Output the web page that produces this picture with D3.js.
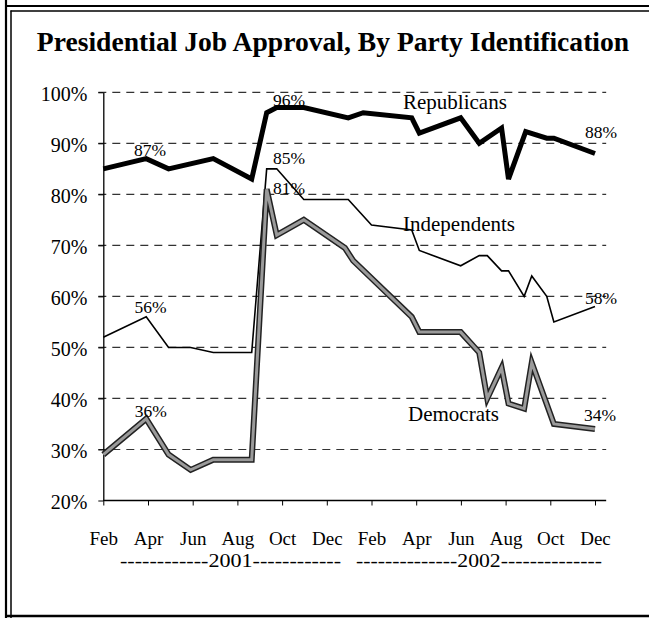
<!DOCTYPE html>
<html>
<head>
<meta charset="utf-8">
<script src="https://cdn.jsdelivr.net/npm/d3@7"></script>
<style>
  html, body { margin: 0; padding: 0; background: #fff; }
  svg { display: block; }
</style>
</head>
<body>
<svg id="chart" width="649" height="618"></svg>
<script>
// ---- data (x = months since Feb 2001) ----
const titleText = "Presidential Job Approval, By Party Identification";
const monthTicks = [0, 2, 4, 6, 8, 10, 12, 14, 16, 18, 20, 22];
const monthLabels = ["Feb", "Apr", "Jun", "Aug", "Oct", "Dec", "Feb", "Apr", "Jun", "Aug", "Oct", "Dec"];
const yTicks = [20, 30, 40, 50, 60, 70, 80, 90, 100];
const yearLabels = ["------------2001------------", "--------------2002--------------"];

const repMonths = [0, 1.92, 2.92, 4.92, 6.64, 7.31, 7.76, 8.97, 10.96, 11.63, 13.8, 14.14, 15.99, 16.82, 17.82, 18.13, 18.9, 19.84, 20.16, 22];
const repValues = [85, 87, 85, 87, 83, 96, 97, 97, 95, 96, 95, 92, 95, 90, 93, 83, 92.3, 91, 91, 88];

const indMonths = [0, 1.92, 2.92, 3.91, 4.92, 6.64, 7.31, 7.76, 8.97, 10.96, 12.0, 13.8, 14.14, 15.99, 16.82, 17.18, 17.82, 18.13, 18.83, 19.17, 19.84, 20.16, 22];
const indValues = [52, 56, 50, 50, 49, 49, 85, 85, 79, 79, 74, 73, 69, 66, 68, 68, 65, 65, 60, 64, 60, 55, 58];

const demMonths = [0, 1.92, 2.92, 3.91, 4.92, 6.64, 7.31, 7.76, 8.97, 10.81, 11.18, 13.8, 14.14, 15.99, 16.82, 17.18, 17.82, 18.13, 18.83, 19.17, 20.16, 22];
const demValues = [29, 36, 29, 26, 28, 28, 81, 72, 75, 69.5, 67, 56, 53, 53, 49, 40, 46, 39, 38, 47, 35, 34];

const seriesNames = ["Republicans", "Independents", "Democrats"];
const labelTexts = ["87%", "96%", "85%", "81%", "56%", "36%", "88%", "58%", "34%"];
const labelMonths = [2.09, 8.31, 8.31, 8.31, 2.11, 2.13, 22.27, 22.27, 22.22];
const labelValues = [87, 96, 85, 81, 56, 36, 88, 58, 34];

// ---- layout ----
const SERIF = "'Liberation Serif', 'Times New Roman', Times, serif";
const labelDy = [-3, -6.7, -4.4, 5.2, -4, -2.2, -15.3, -2.2, -8.4];
const svg = d3.select("#chart");
const x = d3.scaleLinear().domain([0, 22]).range([103.3, 595]);
const y = d3.scaleLinear().domain([20, 100]).range([500.5, 92.3]);
const xEnd = x(22.5);

// frame
svg.append("line").attr("x1", 6).attr("y1", 0).attr("x2", 6).attr("y2", 618).attr("stroke", "#000").attr("stroke-width", 2.2);
svg.append("line").attr("x1", 11).attr("y1", 10.5).attr("x2", 11).attr("y2", 618).attr("stroke", "#000").attr("stroke-width", 1.5);
svg.append("line").attr("x1", 5).attr("y1", 6).attr("x2", 649).attr("y2", 6).attr("stroke", "#000").attr("stroke-width", 2.2);
svg.append("line").attr("x1", 10.5).attr("y1", 11).attr("x2", 649).attr("y2", 11).attr("stroke", "#000").attr("stroke-width", 1.3);
svg.append("line").attr("x1", 5).attr("y1", 616).attr("x2", 649).attr("y2", 616).attr("stroke", "#000").attr("stroke-width", 2.5);

// title
svg.append("text").attr("x", 333).attr("y", 51).attr("text-anchor", "middle")
  .style("font-family", SERIF).style("font-size", "27.6px").style("font-weight", "bold").text(titleText);

// gridlines
svg.append("g").selectAll("line").data(yTicks.filter(d => d > 20)).join("line")
  .attr("x1", x(0) - 5).attr("x2", xEnd)
  .attr("y1", d => y(d)).attr("y2", d => y(d))
  .attr("stroke", "#333").attr("stroke-width", 1.2).attr("stroke-dasharray", "8,6");

// y axis
const yAxis = svg.append("g").attr("transform", `translate(${x(0)},0)`)
  .call(d3.axisLeft(y).tickValues(yTicks).tickSize(5).tickSizeOuter(0).tickFormat(d => d + "%"));
yAxis.select(".domain").attr("stroke", "#000").attr("stroke-width", 1.3);
yAxis.selectAll(".tick line").attr("stroke", "#000");
yAxis.selectAll(".tick text").style("font-family", SERIF).style("font-size", "20px")
  .attr("x", -16).attr("dy", "0.4em").attr("fill", "#000");

// x axis
const xAxis = svg.append("g").attr("transform", `translate(0,${y(20)})`)
  .call(d3.axisBottom(x).tickValues(monthTicks).tickSize(5).tickFormat((d, i) => monthLabels[i]));
xAxis.select(".domain").remove();
xAxis.append("line").attr("x1", x(0)).attr("x2", xEnd).attr("stroke", "#000").attr("stroke-width", 1.3);
xAxis.selectAll(".tick line").attr("stroke", "#000");
xAxis.selectAll(".tick text").style("font-family", SERIF).style("font-size", "19px")
  .attr("y", 44).attr("dy", 0).attr("fill", "#000");

// year labels
const yearPos = [[120, 221], [356, 246]];
svg.append("g").selectAll("text").data(yearLabels).join("text")
  .attr("x", (d, i) => yearPos[i][0]).attr("y", 567)
  .attr("textLength", (d, i) => yearPos[i][1]).attr("lengthAdjust", "spacingAndGlyphs")
  .style("font-family", SERIF).style("font-size", "19px").text(d => d);

// lines
const line = d3.line().x(d => x(d[0])).y(d => y(d[1]));
const rep = d3.zip(repMonths, repValues);
const ind = d3.zip(indMonths, indValues);
const dem = d3.zip(demMonths, demValues);

svg.append("path").datum(ind).attr("d", line).attr("fill", "none")
  .attr("stroke", "#000").attr("stroke-width", 1.6);
svg.append("path").datum(dem).attr("d", line).attr("fill", "none")
  .attr("stroke", "#222").attr("stroke-width", 6);
svg.append("path").datum(dem).attr("d", line).attr("fill", "none")
  .attr("stroke", "#9a9a9a").attr("stroke-width", 3);
svg.append("path").datum(rep).attr("d", line).attr("fill", "none")
  .attr("stroke", "#000").attr("stroke-width", 5);

// series labels
const seriesPos = [[403, 109], [403, 231], [408, 421]];
svg.append("g").selectAll("text").data(seriesNames).join("text")
  .attr("x", (d, i) => seriesPos[i][0]).attr("y", (d, i) => seriesPos[i][1])
  .style("font-family", SERIF).style("font-size", "21px").text(d => d);

// value labels
svg.append("g").selectAll("text").data(labelTexts).join("text")
  .attr("x", (d, i) => x(labelMonths[i]))
  .attr("y", (d, i) => y(labelValues[i]) + labelDy[i])
  .attr("text-anchor", "middle")
  .style("font-family", SERIF).style("font-size", "17.5px").text(d => d);
</script>
</body>
</html>
